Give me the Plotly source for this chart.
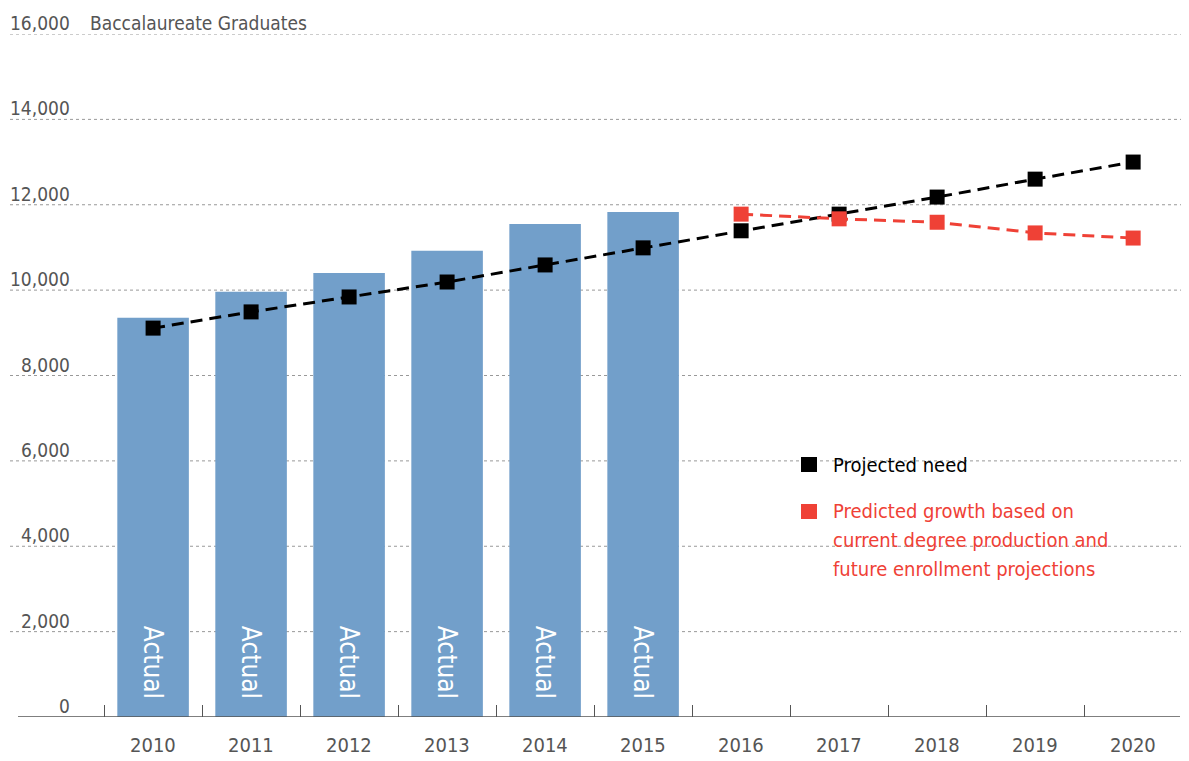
import plotly.graph_objects as go

# data
years = [2010, 2011, 2012, 2013, 2014, 2015, 2016, 2017, 2018, 2019, 2020]
actual_years = [2010, 2011, 2012, 2013, 2014, 2015]
actual = [9350, 9960, 10400, 10920, 11550, 11830]
need = [9110, 9490, 9840, 10190, 10590, 10990, 11390, 11780, 12180, 12600, 13000]
pred_years = [2016, 2017, 2018, 2019, 2020]
predicted = [11780, 11670, 11590, 11340, 11220]
y_ticks = [0, 2000, 4000, 6000, 8000, 10000, 12000, 14000, 16000]
pred_label = ["Predicted growth based on",
              "current degree production and",
              "future enrollment projections"]

FONT = "DejaVu Sans Condensed, Liberation Sans Narrow, sans-serif"
GREY = "#555555"
BLUE = "#729fca"
RED = "#ef4136"

# page body has an 8px margin, so the figure is shrunk by that much
OFF = 8
W, H = 1189 - OFF, 761 - OFF
L, R, T, B = 10 - OFF, 0, 34 - OFF, 44


def px_x(p):
    # page pixel -> paper x
    return (p - OFF - L) / (W - L - R)


def px_y(p):
    # page pixel -> paper y
    return 1 - (p - OFF - T) / (H - T - B)


fig = go.Figure()

fig.add_trace(go.Bar(x=actual_years, y=actual, width=0.73,
                     marker=dict(color=BLUE, line=dict(width=0)),
                     hoverinfo="skip"))

fig.add_trace(go.Scatter(x=years, y=need, mode="lines+markers",
                         line=dict(color="black", width=3, dash="12px,7px"),
                         marker=dict(symbol="square", size=15, color="black")))

fig.add_trace(go.Scatter(x=pred_years, y=predicted, mode="lines+markers",
                         line=dict(color=RED, width=3, dash="12px,7px"),
                         marker=dict(symbol="square", size=15, color=RED)))

# "Actual" labels inside the bars
for yr in actual_years:
    fig.add_annotation(x=yr, y=1290, text="Actual", textangle=90, showarrow=False,
                       font=dict(family=FONT, size=26, color="white"))

# y tick labels above the gridlines
for v in y_ticks:
    fig.add_annotation(x=px_x(72), xref="paper", y=v, yref="y", text=f"{v:,}",
                       xanchor="right", yanchor="bottom", yshift=-2, showarrow=False,
                       font=dict(family=FONT, size=19, color=GREY))
    if v > 0:
        fig.add_shape(type="line", xref="paper", yref="y", x0=0, x1=1, y0=v, y1=v,
                      line=dict(color="#999999", width=1, dash="dot"), layer="below")

fig.add_annotation(x=px_x(88), xref="paper", y=16000, yref="y", text="Baccalaureate Graduates",
                   xanchor="left", yanchor="bottom", yshift=-2, showarrow=False,
                   font=dict(family=FONT, size=19, color=GREY))

# year labels
for yr in years:
    fig.add_annotation(x=yr, y=px_y(745), yref="paper", text=str(yr), showarrow=False,
                       yanchor="middle", font=dict(family=FONT, size=20, color=GREY))

# baseline
fig.add_shape(type="line", xref="paper", yref="y", x0=px_x(18), x1=px_x(1180), y0=0, y1=0,
              line=dict(color=GREY, width=1.5))

# legend
fig.add_shape(type="rect", xref="paper", yref="paper",
              x0=px_x(801), x1=px_x(817), y0=px_y(457), y1=px_y(472),
              fillcolor="black", line=dict(width=0))
fig.add_annotation(x=px_x(831), xref="paper", y=px_y(465), yref="paper",
                   text="Projected need", xanchor="left", yanchor="middle", showarrow=False,
                   font=dict(family=FONT, size=20, color="black"))
fig.add_shape(type="rect", xref="paper", yref="paper",
              x0=px_x(801), x1=px_x(817), y0=px_y(504), y1=px_y(519),
              fillcolor=RED, line=dict(width=0))
for i, line in enumerate(pred_label):
    fig.add_annotation(x=px_x(831), xref="paper", y=px_y(511 + 29 * i), yref="paper",
                       text=line, xanchor="left", yanchor="middle", showarrow=False,
                       font=dict(family=FONT, size=20, color=RED))

fig.update_layout(
    width=W, height=H,
    margin=dict(l=L, r=R, t=T, b=B),
    paper_bgcolor="white", plot_bgcolor="white",
    showlegend=False,
    xaxis=dict(range=[2008.54, 2020.57], tickvals=[y + 0.5 for y in range(2009, 2021)],
               ticktext=[""] * 12, ticks="inside", ticklen=12, tickcolor=GREY, tickwidth=1,
               showgrid=False, zeroline=False, showline=False),
    yaxis=dict(range=[0, 16000], showgrid=False, zeroline=False, showticklabels=False),
)

fig.write_html("out.html")
